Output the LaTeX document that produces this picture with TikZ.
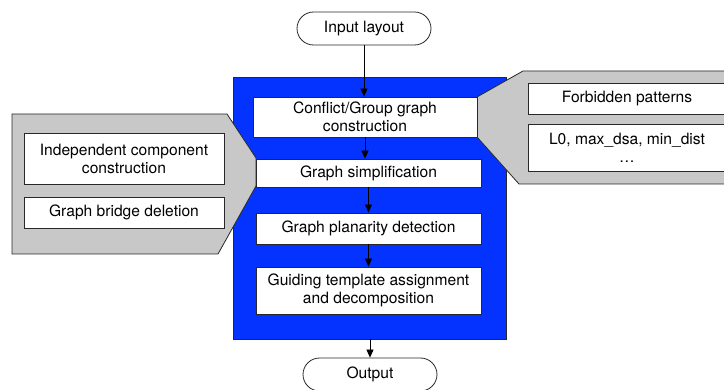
\documentclass[tikz,border=0pt]{standalone}
\usepackage{fontspec}
\setmainfont{TeX Gyre Heros}
\usetikzlibrary{arrows.meta,shapes.misc}
\definecolor{flowblue}{RGB}{4,51,255}
\definecolor{panelgray}{RGB}{200,200,200}
\definecolor{edge}{RGB}{40,40,40}
\tikzset{
  every node/.style={font=\fontsize{15.6}{18}\selectfont},
  stepbox/.style={draw=edge, line width=0.8pt, fill=white, inner sep=0pt, align=center},
  terminal/.style={draw=edge, line width=0.8pt, fill=white, rounded rectangle, inner sep=0pt,
    minimum width=134pt, minimum height=33pt},
  panel/.style={draw=edge, line width=0.8pt, fill=panelgray},
  arr/.style={-{Triangle[length=8pt,width=7pt]}, line width=0.8pt, draw=black},
}
\begin{document}
\begin{tikzpicture}[x=1pt,y=-1pt]
\useasboundingbox (0,0) rectangle (724,390);
\clip (0,0) rectangle (724,390);

% main processing frame
\node[draw=edge, line width=0.8pt, fill=flowblue, inner sep=0pt,
      minimum width=273pt, minimum height=262pt] (frame) at (369.5,208) {};

% side panels
\draw[panel] (12,114) -- (227,114) -- (256,158) -- (256,186) -- (218,254) -- (12,254) -- cycle;
\draw[panel] (523,71) -- (740,71) -- (740,184) -- (519,184) -- (477,137) -- (477,97) -- cycle;

% terminals
\node[terminal] (in) at (364,28.5) {Input layout};
\node[terminal] (out) at (370,374.5) {Output};

% main steps
\node[stepbox, minimum width=224pt, minimum height=40pt] (b1) at (365,117)
  {Conflict/Group graph\\construction};
\node[stepbox, minimum width=225pt, minimum height=28pt] (b2) at (368.5,173)
  {Graph simplification};
\node[stepbox, minimum width=225pt, minimum height=31pt] (b3) at (368.5,228.5)
  {Graph planarity detection};
\node[stepbox, minimum width=225pt, minimum height=47pt] (b4) at (368.5,290.5)
  {Guiding template assignment\\and decomposition};

% left panel entries
\node[stepbox, minimum width=200pt, minimum height=51pt] (l1) at (124,158.5)
  {Independent component\\construction};
\node[stepbox, minimum width=200pt, minimum height=31pt] (l2) at (124,212.5)
  {Graph bridge deletion};

% right panel entries
\node[stepbox, minimum width=198pt, minimum height=31pt] (r1) at (627,98.5)
  {Forbidden patterns};
\node[stepbox, minimum width=198pt, minimum height=47pt] (r2) at (627,147.5)
  {L0, max\_dsa, min\_dist\\…};

% flow arrows
\draw[arr] (in.south) -- (in.south |- b1.north);
\draw[arr] (b1.south) -- (b1.south |- b2.north);
\draw[arr] (b2.south) -- (b3.north);
\draw[arr] (b3.south) -- (b4.north);
\draw[arr] (out.north |- frame.south) -- (out.north);
\end{tikzpicture}
\end{document}
